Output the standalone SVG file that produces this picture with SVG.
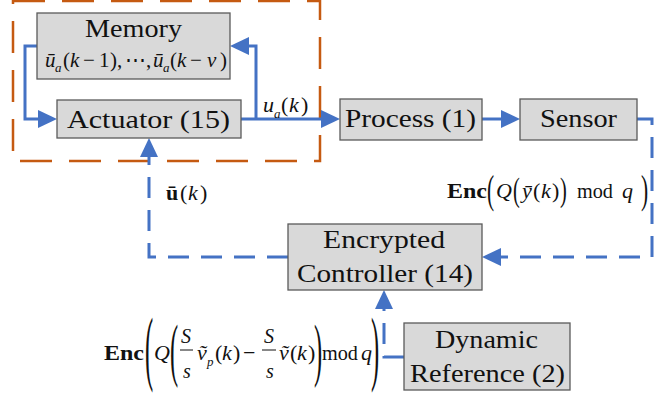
<svg xmlns="http://www.w3.org/2000/svg" width="664" height="396" viewBox="0 0 664 396">
<defs>
<marker id="ah" markerUnits="userSpaceOnUse" markerWidth="20" markerHeight="19" refX="0" refY="9" orient="auto">
<path d="M0,0 L19,9 L0,18 z" fill="#4472c4"/>
</marker>
<style>
.box{fill:#d9d9d9;stroke:#5a5a5a;stroke-width:1.3}
.lbl{font-family:"Liberation Serif","DejaVu Serif",serif;font-size:26px;fill:#111;text-anchor:middle}
.ln{fill:none;stroke:#4472c4;stroke-width:3}
.dash{stroke-dasharray:21 12}
.m{font-family:"Liberation Serif","DejaVu Serif",serif;font-size:22px;fill:#111}
.i{font-style:italic}
.b{font-weight:bold}
.sub{font-size:13px;font-style:italic}
.bar{stroke:#111;stroke-width:1.2}
</style>
</defs>
<rect x="13" y="1" width="307" height="160" fill="none" stroke="#c55a11" stroke-width="2.5" stroke-dasharray="32 17"/>
<g id="connectors">
<path class="ln" d="M37,46 H25 V119 H38" marker-end="url(#ah)"/>
<path class="ln" d="M241,119 H321" marker-end="url(#ah)"/>
<path class="ln" d="M256,119 V46 H249" marker-end="url(#ah)"/>
<path class="ln" d="M482,119 H501" marker-end="url(#ah)"/>
<path class="ln dash" d="M637,119 H652 V257 H501" marker-end="url(#ah)"/>
<path class="ln dash" d="M288,257 H149 V157" marker-end="url(#ah)"/>
<path class="ln dash" d="M404,357 H384 V309" marker-end="url(#ah)"/>
</g>
<g id="memory">
<rect class="box" x="37" y="13" width="193" height="66"/>
<text class="lbl" x="133.5" y="37" textLength="97" lengthAdjust="spacingAndGlyphs">Memory</text>
<text class="m" y="67" style="font-size:21px"><tspan class="i" x="45">ū</tspan><tspan class="sub" x="55" y="72">a</tspan><tspan x="63" y="67">(</tspan><tspan class="i" x="70">k</tspan><tspan x="83">−</tspan><tspan x="99">1</tspan><tspan x="110">)</tspan><tspan x="117">,</tspan><tspan x="125">⋯</tspan><tspan x="146">,</tspan><tspan class="i" x="153">ū</tspan><tspan class="sub" x="163" y="72">a</tspan><tspan x="170" y="67">(</tspan><tspan class="i" x="177">k</tspan><tspan x="190">−</tspan><tspan class="i" x="207">v</tspan><tspan x="220">)</tspan></text>
</g>
<g id="actuator">
<rect class="box" x="57" y="100" width="184" height="38"/>
<text class="lbl" x="148.5" y="128" textLength="163" lengthAdjust="spacingAndGlyphs">Actuator (15)</text>
</g>
<g id="process">
<rect class="box" x="340" y="99" width="142" height="41"/>
<text class="lbl" x="410.5" y="127" textLength="131" lengthAdjust="spacingAndGlyphs">Process (1)</text>
</g>
<g id="sensor">
<rect class="box" x="520" y="99" width="117" height="41"/>
<text class="lbl" x="578.5" y="127" textLength="77" lengthAdjust="spacingAndGlyphs">Sensor</text>
</g>
<g id="controller">
<rect class="box" x="288" y="224" width="194" height="66"/>
<text class="lbl" x="384" y="248" textLength="122" lengthAdjust="spacingAndGlyphs">Encrypted</text>
<text class="lbl" x="385" y="282" textLength="176" lengthAdjust="spacingAndGlyphs">Controller (14)</text>
</g>
<g id="dynref">
<rect class="box" x="404" y="323" width="166" height="67"/>
<text class="lbl" x="486.5" y="348" textLength="103" lengthAdjust="spacingAndGlyphs">Dynamic</text>
<text class="lbl" x="487.5" y="382" textLength="155" lengthAdjust="spacingAndGlyphs">Reference (2)</text>
</g>
<g id="label-ua">
<text class="m" y="112"><tspan class="i" x="263">u</tspan><tspan class="sub" x="274" y="118">a</tspan><tspan x="281" y="112">(</tspan><tspan class="i" x="289">k</tspan><tspan x="301">)</tspan></text>
</g>
<g id="label-ubar">
<text class="m" y="200"><tspan class="b" x="166">ū</tspan><tspan x="180">(</tspan><tspan class="i" x="188">k</tspan><tspan x="200">)</tspan></text>
</g>
<g id="label-enc-y">
<text class="m b" x="447" y="198" textLength="40" lengthAdjust="spacingAndGlyphs">Enc</text>
<text class="m" style="font-size:39px" transform="translate(487,203) scale(0.55,1)">(</text>
<text class="m i" x="496" y="198">Q</text>
<text class="m" style="font-size:34px" transform="translate(513,201) scale(0.6,1)">(</text>
<text class="m" y="198"><tspan class="i" x="522">ȳ</tspan><tspan x="533">(</tspan><tspan class="i" x="541">k</tspan><tspan x="552">)</tspan></text>
<text class="m" style="font-size:34px" transform="translate(560,201) scale(0.6,1)">)</text>
<text class="m" x="577" y="198" textLength="36" lengthAdjust="spacingAndGlyphs">mod</text>
<text class="m i" x="622" y="198">q</text>
<text class="m" style="font-size:39px" transform="translate(641,203) scale(0.55,1)">)</text>
</g>
<g id="label-enc-ref">
<text class="m b" x="104" y="360" textLength="40" lengthAdjust="spacingAndGlyphs">Enc</text>
<text class="m" style="font-size:82px" transform="translate(145,375) scale(0.3,1)">(</text>
<text class="m i" x="154" y="360">Q</text>
<text class="m" style="font-size:70px" transform="translate(170,373) scale(0.35,1)">(</text>
<text class="m i" x="181" y="343" style="font-size:20px">S</text>
<line x1="180" y1="350" x2="193" y2="350" stroke="#111" stroke-width="1"/>
<text class="m i" x="183" y="378" style="font-size:20px">s</text>
<text class="m" y="360"><tspan class="i" x="197">ṽ</tspan><tspan class="sub" x="207" y="366">p</tspan><tspan x="215" y="360">(</tspan><tspan class="i" x="222">k</tspan><tspan x="233">)</tspan><tspan x="243">−</tspan></text>
<text class="m i" x="264" y="343" style="font-size:20px">S</text>
<line x1="262" y1="350" x2="276" y2="350" stroke="#111" stroke-width="1"/>
<text class="m i" x="266" y="378" style="font-size:20px">s</text>
<text class="m" y="360"><tspan class="i" x="279">ṽ</tspan><tspan x="290">(</tspan><tspan class="i" x="297">k</tspan><tspan x="308">)</tspan></text>
<text class="m" style="font-size:70px" transform="translate(314,373) scale(0.35,1)">)</text>
<text class="m" x="322" y="360" textLength="36" lengthAdjust="spacingAndGlyphs">mod</text>
<text class="m i" x="361" y="360">q</text>
<text class="m" style="font-size:82px" transform="translate(371,375) scale(0.3,1)">)</text>
</g>
</svg>
